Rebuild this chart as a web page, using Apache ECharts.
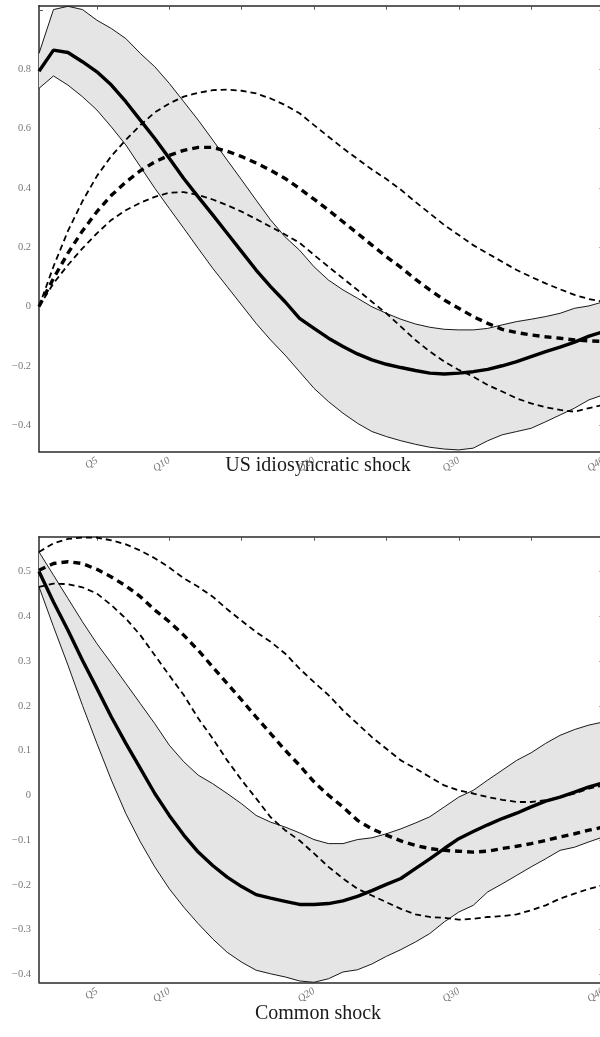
<!DOCTYPE html>
<html>
<head>
<meta charset="utf-8">
<script src="https://cdn.jsdelivr.net/npm/echarts@6/dist/echarts.min.js"></script>
<style>
html,body{margin:0;padding:0;background:#fff;}
#chart{width:600px;height:1037px;}
</style>
</head>
<body>
<div id="chart"></div>
<script>
// ---------------- data ----------------
var quarters = [];
for (var i = 1; i <= 40; i++) quarters.push('Q' + i);
var xLabelQuarters = ['Q5', 'Q10', 'Q20', 'Q30', 'Q40'];

var titles = ['US idiosyncratic shock', 'Common shock'];

// Panel 1: US idiosyncratic shock
var usYTicks = [-0.4, -0.2, 0, 0.2, 0.4, 0.6, 0.8];
var usRightTicks = [-0.4, -0.2, 0, 0.2, 0.4, 0.6, 0.8, 1.0];
var usMedian = [0.794, 0.865, 0.857, 0.826, 0.792, 0.747, 0.691, 0.629, 0.567, 0.500, 0.432, 0.370, 0.309, 0.247, 0.185, 0.123, 0.067, 0.016, -0.040, -0.074, -0.107, -0.135, -0.160, -0.180, -0.195, -0.206, -0.216, -0.225, -0.228, -0.225, -0.220, -0.212, -0.200, -0.186, -0.169, -0.152, -0.137, -0.120, -0.100, -0.085];
var usUpper = [0.854, 1.002, 1.013, 1.002, 0.966, 0.938, 0.904, 0.854, 0.809, 0.753, 0.691, 0.629, 0.562, 0.494, 0.427, 0.359, 0.292, 0.235, 0.190, 0.134, 0.089, 0.056, 0.028, -0.001, -0.023, -0.043, -0.059, -0.070, -0.077, -0.079, -0.079, -0.074, -0.062, -0.051, -0.043, -0.034, -0.023, -0.006, 0.002, 0.016];
var usLower = [0.736, 0.778, 0.747, 0.708, 0.663, 0.606, 0.545, 0.472, 0.399, 0.331, 0.264, 0.196, 0.129, 0.067, 0.005, -0.057, -0.113, -0.164, -0.220, -0.276, -0.321, -0.360, -0.394, -0.422, -0.439, -0.453, -0.465, -0.475, -0.481, -0.484, -0.478, -0.453, -0.433, -0.422, -0.411, -0.389, -0.366, -0.343, -0.315, -0.298];
var usDashThick = [0, 0.095, 0.180, 0.255, 0.320, 0.375, 0.420, 0.458, 0.488, 0.510, 0.527, 0.537, 0.537, 0.524, 0.506, 0.484, 0.460, 0.432, 0.398, 0.362, 0.325, 0.286, 0.247, 0.207, 0.168, 0.132, 0.092, 0.056, 0.022, -0.006, -0.034, -0.057, -0.077, -0.088, -0.096, -0.102, -0.107, -0.113, -0.116, -0.118];
var usDashUpper = [0, 0.135, 0.255, 0.355, 0.440, 0.508, 0.562, 0.612, 0.655, 0.685, 0.708, 0.721, 0.730, 0.732, 0.728, 0.719, 0.702, 0.680, 0.652, 0.612, 0.573, 0.534, 0.498, 0.462, 0.430, 0.394, 0.353, 0.314, 0.275, 0.241, 0.207, 0.179, 0.151, 0.123, 0.100, 0.078, 0.058, 0.039, 0.025, 0.016];
var usDashLower = [0, 0.078, 0.140, 0.196, 0.247, 0.292, 0.325, 0.350, 0.370, 0.384, 0.386, 0.376, 0.361, 0.342, 0.320, 0.295, 0.269, 0.243, 0.215, 0.174, 0.134, 0.095, 0.056, 0.016, -0.023, -0.068, -0.113, -0.152, -0.186, -0.214, -0.237, -0.265, -0.287, -0.310, -0.327, -0.340, -0.349, -0.355, -0.343, -0.332];

// Panel 2: Common shock
var cYTicks = [-0.4, -0.3, -0.2, -0.1, 0, 0.1, 0.2, 0.3, 0.4, 0.5];
var cMedian = [0.500, 0.432, 0.369, 0.302, 0.239, 0.175, 0.116, 0.060, 0.004, -0.045, -0.089, -0.127, -0.157, -0.183, -0.204, -0.222, -0.230, -0.237, -0.244, -0.244, -0.242, -0.236, -0.226, -0.213, -0.199, -0.186, -0.164, -0.142, -0.119, -0.097, -0.081, -0.066, -0.052, -0.040, -0.026, -0.013, -0.004, 0.007, 0.019, 0.028];
var cUpper = [0.544, 0.492, 0.440, 0.388, 0.339, 0.295, 0.250, 0.205, 0.160, 0.112, 0.075, 0.045, 0.026, 0.004, -0.019, -0.045, -0.060, -0.071, -0.084, -0.099, -0.108, -0.108, -0.099, -0.095, -0.086, -0.075, -0.062, -0.048, -0.026, -0.004, 0.011, 0.034, 0.056, 0.078, 0.095, 0.116, 0.134, 0.147, 0.157, 0.164];
var cLower = [0.466, 0.377, 0.291, 0.201, 0.116, 0.034, -0.041, -0.104, -0.160, -0.209, -0.250, -0.287, -0.321, -0.351, -0.373, -0.391, -0.399, -0.406, -0.415, -0.418, -0.410, -0.395, -0.390, -0.377, -0.360, -0.345, -0.328, -0.309, -0.283, -0.261, -0.246, -0.216, -0.198, -0.179, -0.160, -0.142, -0.123, -0.116, -0.104, -0.093];
var cDashThick = [0.503, 0.518, 0.522, 0.518, 0.505, 0.488, 0.468, 0.444, 0.414, 0.388, 0.358, 0.324, 0.287, 0.250, 0.213, 0.175, 0.138, 0.101, 0.067, 0.030, 0.000, -0.026, -0.056, -0.075, -0.089, -0.102, -0.112, -0.119, -0.123, -0.125, -0.127, -0.125, -0.119, -0.114, -0.108, -0.101, -0.093, -0.086, -0.078, -0.071];
var cDashUpper = [0.544, 0.563, 0.573, 0.576, 0.576, 0.570, 0.561, 0.547, 0.530, 0.509, 0.485, 0.466, 0.444, 0.416, 0.390, 0.365, 0.343, 0.317, 0.283, 0.253, 0.224, 0.190, 0.160, 0.130, 0.104, 0.078, 0.060, 0.041, 0.022, 0.011, 0.004, -0.004, -0.010, -0.015, -0.015, -0.011, -0.004, 0.004, 0.015, 0.022];
var cDashLower = [0.466, 0.473, 0.472, 0.465, 0.451, 0.425, 0.395, 0.358, 0.313, 0.268, 0.224, 0.172, 0.127, 0.078, 0.034, -0.007, -0.049, -0.078, -0.101, -0.130, -0.160, -0.186, -0.209, -0.224, -0.239, -0.254, -0.266, -0.272, -0.274, -0.278, -0.276, -0.272, -0.270, -0.266, -0.257, -0.246, -0.231, -0.220, -0.209, -0.201];

// ---------------- build ----------------
var panels = [
  {top: 5.7, height: 446, min: -0.49, max: 1.015, yTicks: usYTicks, rightTicks: usRightTicks, leftTicks: [1.0],
   median: usMedian, upper: usUpper, lower: usLower, dThick: usDashThick, dUp: usDashUpper, dLow: usDashLower, titleY: 466},
  {top: 536.7, height: 445.6, min: -0.418, max: 0.578, yTicks: cYTicks, rightTicks: cYTicks, leftTicks: [],
   median: cMedian, upper: cUpper, lower: cLower, dThick: cDashThick, dUp: cDashUpper, dLow: cDashLower, titleY: 1014}
];

function fmt(v) {
  var r = Math.round(v * 10) / 10;
  if (r === 0) return '0';
  return (r < 0 ? '\u2212' : '') + Math.abs(r);
}

var grids = [], xAxes = [], yAxes = [], series = [], graphics = [];
var axisCol = '#2a2a2a';
panels.forEach(function (p, k) {
  grids.push({left: 39, width: 564.5, top: p.top, height: p.height, containLabel: false, outerBoundsMode: 'none'});
  // bottom axis with rotated labels
  xAxes.push({
    type: 'category', gridIndex: k, data: quarters, boundaryGap: false, position: 'bottom',
    axisLine: {show: true, onZero: false, lineStyle: {color: axisCol, width: 1.5}},
    axisTick: {show: false},
    axisLabel: {
      show: true, rotate: 32, margin: 8, color: '#777', fontStyle: 'italic',
      fontFamily: 'Liberation Serif', fontSize: 10.5,
      hideOverlap: false,
      interval: function (idx, val) { return xLabelQuarters.indexOf(val) >= 0; }
    },
    splitLine: {show: false}
  });
  // top axis with inward ticks every 5 quarters
  xAxes.push({
    type: 'category', gridIndex: k, data: quarters, boundaryGap: false, position: 'top',
    axisLine: {show: true, onZero: false, lineStyle: {color: axisCol, width: 1.5}},
    axisTick: {show: true, inside: true, length: 4, lineStyle: {color: '#555', width: 1},
      interval: function (idx) { return (idx + 1) % 5 === 0; }},
    axisLabel: {show: false},
    splitLine: {show: false}
  });
  yAxes.push({
    type: 'value', gridIndex: k, min: p.min, max: p.max, position: 'left',
    axisLine: {show: true, onZero: false, lineStyle: {color: axisCol, width: 1.5}},
    axisTick: {show: p.leftTicks.length > 0, inside: true, length: 4, customValues: p.leftTicks, lineStyle: {color: '#555'}},
    axisLabel: {show: true, customValues: p.yTicks, formatter: fmt, color: '#777', hideOverlap: false,
      fontFamily: 'Liberation Serif', fontSize: 10.5, margin: 8},
    splitLine: {show: false}
  });
  yAxes.push({
    type: 'value', gridIndex: k, min: p.min, max: p.max, position: 'right',
    axisLine: {show: true, onZero: false, lineStyle: {color: axisCol, width: 1.5}},
    axisTick: {show: true, inside: true, length: 4, customValues: p.rightTicks, lineStyle: {color: '#555'}},
    axisLabel: {show: false},
    splitLine: {show: false}
  });
  var xi = k * 2, yi = k * 2;
  var diff = p.upper.map(function (u, i) { return +(u - p.lower[i]).toFixed(4); });
  var base = {type: 'line', xAxisIndex: xi, yAxisIndex: yi, symbol: 'none', silent: true, animation: false};
  series.push(Object.assign({}, base, {name: 'bandBase' + k, data: p.lower, stack: 'band' + k, stackStrategy: 'all',
    lineStyle: {opacity: 0, width: 0}, z: 1}));
  series.push(Object.assign({}, base, {name: 'bandFill' + k, data: diff, stack: 'band' + k, stackStrategy: 'all',
    lineStyle: {opacity: 0, width: 0}, areaStyle: {color: '#e5e5e5', opacity: 1}, z: 1}));
  series.push(Object.assign({}, base, {name: 'lower' + k, data: p.lower, lineStyle: {color: '#000', width: 0.9}, z: 2}));
  series.push(Object.assign({}, base, {name: 'upper' + k, data: p.upper, lineStyle: {color: '#000', width: 0.9}, z: 2}));
  series.push(Object.assign({}, base, {name: 'dUp' + k, data: p.dUp, lineStyle: {color: '#000', width: 1.8, type: [6, 4]}, z: 3}));
  series.push(Object.assign({}, base, {name: 'dLow' + k, data: p.dLow, lineStyle: {color: '#000', width: 1.8, type: [6, 4]}, z: 3}));
  series.push(Object.assign({}, base, {name: 'dThick' + k, data: p.dThick, lineStyle: {color: '#000', width: 3.4, type: [7, 5]}, z: 4}));
  series.push(Object.assign({}, base, {name: 'median' + k, data: p.median, lineStyle: {color: '#000', width: 3.4}, z: 5}));
  graphics.push({type: 'text', x: 318, y: p.titleY, style: {text: titles[k], font: '20px "Liberation Serif"',
    fill: '#1a1a1a', textAlign: 'center', textVerticalAlign: 'middle'}});
});

var chart = echarts.init(document.getElementById('chart'), null, {renderer: 'canvas'});
chart.setOption({
  animation: false,
  backgroundColor: '#fff',
  grid: grids, xAxis: xAxes, yAxis: yAxes, series: series, graphic: graphics
});
</script>
</body>
</html>
